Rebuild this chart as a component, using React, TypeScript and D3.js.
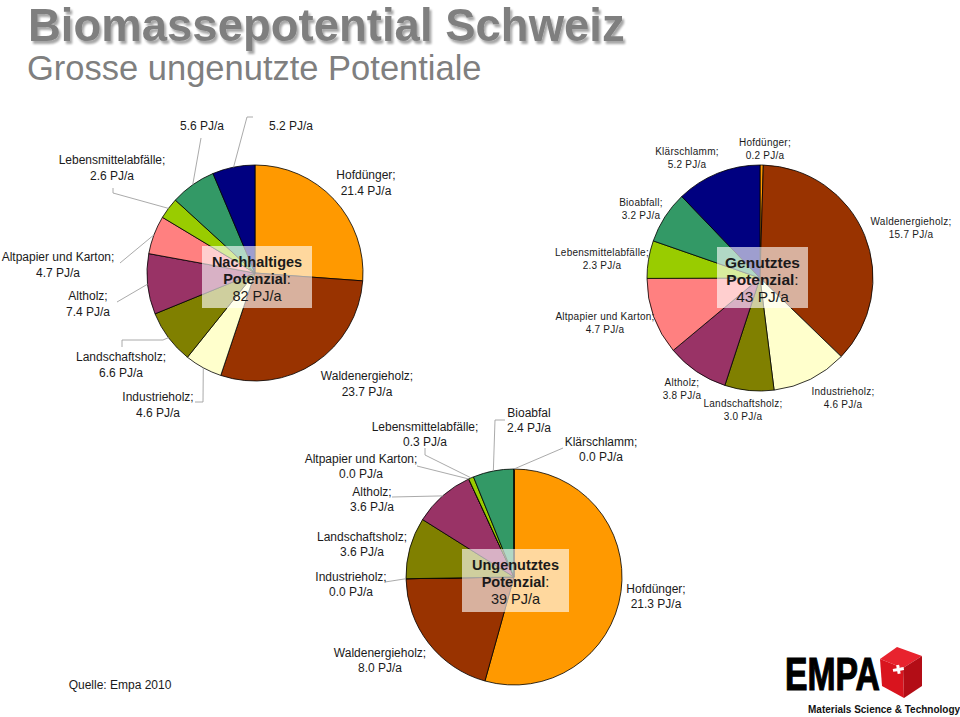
import React from 'react';
import * as d3 from 'd3';

// Biomass potential of Switzerland, PJ/a (Empa 2010)
const categories = [
  'Hofdünger',
  'Waldenergieholz',
  'Industrieholz',
  'Landschaftsholz',
  'Altholz',
  'Altpapier und Karton',
  'Lebensmittelabfälle',
  'Bioabfall',
  'Klärschlamm',
];
const colors = ['#ff9900', '#993300', '#ffffcc', '#808000', '#993366', '#ff8080', '#99cc00', '#339966', '#000080'];

const nachhaltigValues = [21.4, 23.7, 4.6, 6.6, 7.4, 4.7, 2.6, 5.6, 5.2];
const genutztValues = [0.2, 15.7, 4.6, 3.0, 3.8, 4.7, 2.3, 3.2, 5.2];
const ungenutztValues = [21.3, 8.0, 0.0, 3.6, 3.6, 0.0, 0.3, 2.4, 0.0];

const pieTitles = ['Nachhaltiges', 'Genutztes', 'Ungenutztes'];

const FONT = '"Liberation Sans", Arial, Helvetica, sans-serif';
const TEXT = '#1a1a1a';

type Label = { x: number; y: number; name?: string | null; leader?: [number, number][] };
type PieLayout = {
  values: number[];
  title: string;
  cx: number; cy: number; r: number;
  fontSize: number; lineH: number;
  box: { x: number; y: number; w: number; h: number };
  labels: Label[]; // same order as categories
};

const pies: PieLayout[] = [
  {
    values: nachhaltigValues, title: pieTitles[0],
    cx: 255, cy: 273, r: 108, fontSize: 12, lineH: 15.5,
    box: { x: 202, y: 246, w: 110, h: 62 },
    labels: [
      { x: 366, y: 179 },
      { x: 367, y: 380 },
      { x: 158, y: 401, leader: [[203, 402], [195, 402]] },
      { x: 121, y: 361, leader: [[163, 340], [122, 340], [122, 347]] },
      { x: 88, y: 300, leader: [[117, 302]] },
      { x: 58, y: 261, leader: [[120, 263]] },
      { x: 112, y: 164, leader: [[113, 193], [113, 188]] },
      { x: 202, y: 130, name: null, leader: [[201, 138]] },
      { x: 291, y: 130, name: null, leader: [[247, 117], [253, 117]] },
    ],
  },
  {
    values: genutztValues, title: pieTitles[1],
    cx: 760, cy: 278, r: 113, fontSize: 10, lineH: 13,
    box: { x: 717, y: 247, w: 91, h: 61 },
    labels: [
      { x: 765, y: 146 },
      { x: 911, y: 225 },
      { x: 843, y: 395 },
      { x: 743, y: 407 },
      { x: 682, y: 386 },
      { x: 605, y: 320 },
      { x: 602, y: 256 },
      { x: 641, y: 206 },
      { x: 687, y: 155 },
    ],
  },
  {
    values: ungenutztValues, title: pieTitles[2],
    cx: 514, cy: 577, r: 108, fontSize: 12, lineH: 15,
    box: { x: 462, y: 549, w: 107, h: 63 },
    labels: [
      { x: 656, y: 593 },
      { x: 380, y: 657 },
      { x: 351, y: 581, leader: [[385, 582]] },
      { x: 362, y: 541 },
      { x: 372, y: 496, leader: [[392, 497]] },
      { x: 361, y: 463, leader: [[417, 466]] },
      { x: 425, y: 431, leader: [[425, 455], [425, 448]] },
      { x: 529, y: 417, name: 'Bioabfal', leader: [[495, 420], [505, 420]] },
      { x: 601, y: 446, leader: [[563, 448]] },
    ],
  },
];

const Pie = ({ p }: { p: PieLayout }) => {
  const arcs = d3.pie<number>().sort(null).value(d => d)(p.values);
  const arc = d3.arc<d3.PieArcDatum<number>>().innerRadius(0).outerRadius(p.r);
  const edge = d3.arc<d3.PieArcDatum<number>>().innerRadius(p.r).outerRadius(p.r);
  const total = d3.sum(p.values);
  const line = d3.line();
  const bfs = p.fontSize === 10 ? 15.5 : 14.5;
  const bx = p.box.x + p.box.w / 2;
  return (
    <g>
      <g transform={`translate(${p.cx},${p.cy})`}>
        {arcs.map((a, i) => (
          <path key={i} d={arc(a) || ''} fill={colors[i]} stroke="#000" strokeWidth={0.8} strokeLinejoin="round" />
        ))}
      </g>
      {p.labels.map((l, i) => {
        if (!l.leader) return null;
        const [ex, ey] = edge.centroid(arcs[i]);
        const pts: [number, number][] = [[p.cx + ex, p.cy + ey], ...l.leader];
        return <path key={'l' + i} d={line(pts) || ''} fill="none" stroke="#a0a0a0" strokeWidth={0.9} />;
      })}
      {p.labels.map((l, i) => {
        const name = l.name === undefined ? categories[i] + ';' : l.name;
        const val = `${p.values[i].toFixed(1)} PJ/a`;
        return (
          <text key={'t' + i} x={l.x} y={l.y} textAnchor="middle" fontFamily={FONT} fontSize={p.fontSize}
            fill={TEXT} letterSpacing={p.fontSize === 10 ? 0.25 : 0}>
            {name && <tspan x={l.x}>{name}</tspan>}
            <tspan x={l.x} dy={name ? p.lineH : 0}>{val}</tspan>
          </text>
        );
      })}
      <rect x={p.box.x} y={p.box.y} width={p.box.w} height={p.box.h} fill="#ffffff" fillOpacity={0.62} />
      <text x={bx} y={p.box.y + 21} textAnchor="middle" fontFamily={FONT} fontSize={bfs} fill={TEXT}>
        <tspan x={bx} fontWeight="bold">{p.title}</tspan>
        <tspan x={bx} dy={17}><tspan fontWeight="bold">Potenzial</tspan>:</tspan>
        <tspan x={bx} dy={17}>{`${Math.round(total)} PJ/a`}</tspan>
      </text>
    </g>
  );
};

const EmpaLogo = () => (
  <g>
    <text x={785} y={690} fontFamily={FONT} fontWeight="bold" fontSize={47} fill="#000"
      stroke="#000" strokeWidth={1.2} textLength={95} lengthAdjust="spacingAndGlyphs">EMPA</text>
    <polygon points="880,659 897,647 922,656 903,668" fill="#e8232e" />
    <polygon points="880,659 903,668 904,698 882,686" fill="#d9141e" />
    <polygon points="903,668 922,656 922,686 904,698" fill="#b30d16" />
    <path d="M893,668 h4 v-3 h3 v3 h4 v3 h-4 v3 h-3 v-3 h-4 z" fill="#fff" transform="rotate(-10 898 670)" />
    <text x={808} y={713} fontFamily={FONT} fontWeight="bold" fontSize={10} fill="#111">
      Materials Science &amp; Technology
    </text>
  </g>
);

export default function App() {
  return (
    <svg width={960} height={717} style={{ position: 'absolute', left: 0, top: 0, background: '#fff' }}>
      <defs>
        <filter id="shadow" x="-5%" y="-20%" width="115%" height="160%">
          <feGaussianBlur in="SourceAlpha" stdDeviation={1.2} />
          <feOffset dx={2} dy={3} result="off" />
          <feComponentTransfer><feFuncA type="linear" slope={0.35} /></feComponentTransfer>
          <feMerge>
            <feMergeNode />
            <feMergeNode in="SourceGraphic" />
          </feMerge>
        </filter>
      </defs>
      <rect width={960} height={717} fill="#fff" />
      <text x={28} y={41} fontFamily={FONT} fontWeight="bold" fontSize={45.5} fill="#7f7f7f" filter="url(#shadow)">
        Biomassepotential Schweiz
      </text>
      <text x={27} y={80} fontFamily={FONT} fontSize={34.5} fill="#7f7f7f">Grosse ungenutzte Potentiale</text>
      {pies.map((p, i) => <Pie key={i} p={p} />)}
      <text x={120} y={689} textAnchor="middle" fontFamily={FONT} fontSize={12} fill={TEXT}>Quelle: Empa 2010</text>
      <EmpaLogo />
    </svg>
  );
}
